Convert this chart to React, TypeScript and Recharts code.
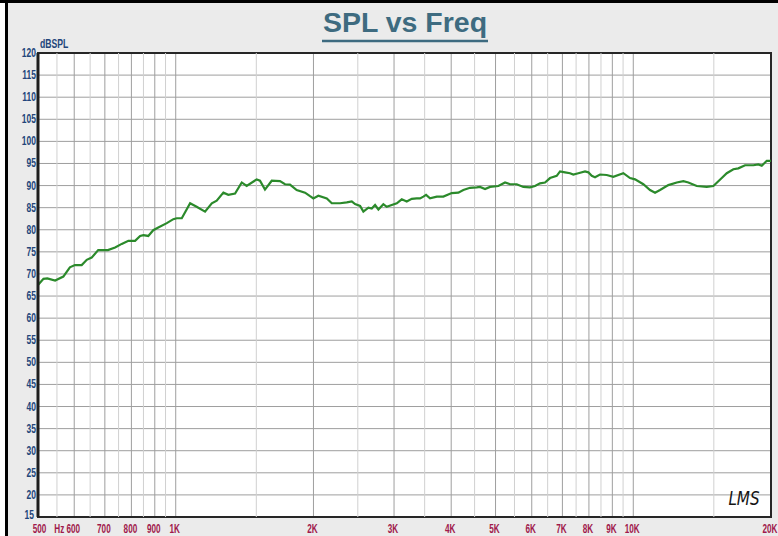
import React from 'react';
import { LineChart, Line, XAxis, YAxis, CartesianGrid, ReferenceLine, ReferenceArea } from 'recharts';

const FREQS = [
  500, 514, 524, 545, 568, 587, 602, 623, 639, 655, 677, 694, 711, 737, 762, 788, 815, 836, 850, 871,
  893, 916, 956, 988, 1005, 1031, 1075, 1111, 1159, 1199, 1229, 1271, 1303, 1348, 1394, 1429, 1503, 1528,
  1567, 1621, 1690, 1733, 1777, 1838, 1917, 1966, 1999, 2050, 2139, 2193, 2287, 2365, 2425, 2466, 2529,
  2571, 2637, 2682, 2727, 2773, 2843, 2892, 2966, 3042, 3119, 3198, 3280, 3363, 3420, 3477, 3525, 3596,
  3720, 3845, 4011, 4147, 4252, 4398, 4549, 4625, 4743, 4864, 5071, 5245, 5379, 5563, 5751, 5948, 6100,
  6255, 6414, 6578, 6803, 6918, 7093, 7274, 7395, 7584, 7844, 7976, 8113, 8249, 8459, 8750, 9045, 9512,
  9839, 10089, 10520, 10881, 11158, 11442, 11931, 12447, 12867, 13195, 13764, 14475, 14964, 15611, 16008,
  16549, 16970, 17553, 18302, 18768, 19091, 19577, 20000,
];

const SPL = [
  67.5, 68.9, 69.0, 68.5, 69.4, 71.5, 72.0, 72.0, 73.2, 73.7, 75.4, 75.4, 75.4, 76.0, 76.8, 77.5, 77.5, 78.6, 78.8, 78.6,
  79.9, 80.5, 81.5, 82.4, 82.6, 82.6, 86.0, 85.2, 84.1, 86.0, 86.6, 88.4, 87.9, 88.2, 90.7, 89.9, 91.4, 91.1,
  89.1, 91.1, 91.0, 90.3, 90.2, 89.0, 88.4, 87.6, 87.1, 87.7, 87.1, 86.0, 86.0, 86.2, 86.4, 85.8, 85.4,
  84.1, 85.0, 84.8, 85.6, 84.6, 85.8, 85.2, 85.6, 86.0, 86.9, 86.4, 87.0, 87.1, 87.1, 87.5, 87.9, 87.1,
  87.5, 87.5, 88.3, 88.4, 89.0, 89.5, 89.6, 89.7, 89.2, 89.7, 89.9, 90.7, 90.3, 90.3, 89.7, 89.6, 89.9,
  90.5, 90.7, 91.7, 92.2, 93.2, 93.0, 92.8, 92.5, 92.8, 93.2, 93.0, 92.2, 91.9, 92.5, 92.4, 92.0, 92.8,
  91.7, 91.4, 90.3, 89.0, 88.4, 89.0, 90.1, 90.7, 91.0, 90.7, 89.9, 89.7, 89.9, 91.7, 92.8,
  93.7, 93.9, 94.6, 94.6, 94.8, 94.5, 95.6, 95.6,
];

const X_TICKS = [500, 600, 700, 800, 900, 1000, 2000, 3000, 4000, 5000, 6000, 7000, 8000, 9000, 10000, 20000];
const MINOR_GRID = [550, 650, 750, 850, 950, 1500, 2500, 3500, 4500, 5500, 6500, 7500, 8500, 9500, 15000];
const Y_TICKS = [15, 20, 25, 30, 35, 40, 45, 50, 55, 60, 65, 70, 75, 80, 85, 90, 95, 100, 105, 110, 115, 120];

const TITLE = 'SPL vs Freq';
const Y_UNIT = 'dBSPL';
const X_UNIT = 'Hz';

const data = FREQS.map((f, i) => ({ freq: f, spl: SPL[i] }));

const FONT = "'Liberation Sans', Arial, sans-serif";
const Y_COLOR = '#22457a';
const X_COLOR = '#a01a4c';

function fmtFreq(v: number) {
  return v >= 1000 ? `${v / 1000}K` : `${v}`;
}

function XTick(props: any) {
  const { x, y, payload } = props;
  const v = payload.value;
  const nudge = v === X_TICKS[0] ? 1.5 : -1;
  return (
    <g transform={`translate(${x},${y})`}>
      <text transform={`translate(${nudge},15.5) scale(0.68,1)`} textAnchor="middle" fontFamily={FONT} fontSize={12} fontWeight="bold" fill={X_COLOR}>
        {fmtFreq(v)}
      </text>
      {v === 600 && (
        <text transform="translate(-10,15.5) scale(0.68,1)" textAnchor="end" fontFamily={FONT} fontSize={12} fontWeight="bold" fill={X_COLOR}>
          {X_UNIT}
        </text>
      )}
    </g>
  );
}

function YTick(props: any) {
  const { x, y, payload } = props;
  const isLowest = payload.value === Y_TICKS[0];
  const dx = isLowest ? -4 : -2;
  const dy = isLowest ? 2 : 4;
  return (
    <text transform={`translate(${x + dx},${y + dy}) scale(0.68,1)`} textAnchor="end" fontFamily={FONT} fontSize={12.5} fontWeight="bold" fill={Y_COLOR}>
      {payload.value}
    </text>
  );
}

export default function App() {
  return (
    <div style={{ position: 'fixed', left: 0, top: 0, width: 778, height: 536, background: '#fff', overflow: 'hidden' }}>
      <div style={{ position: 'absolute', left: 8, top: 3, right: 0, bottom: 0, background: '#ebebeb' }} />
      <div style={{ position: 'absolute', left: 0, top: 0, width: 778, height: 3, background: '#000' }} />
      <div style={{ position: 'absolute', left: 5, top: 0, width: 3, height: 536, background: '#000' }} />
      <div style={{ position: 'absolute', left: 0, top: 0 }}>
        <LineChart width={778} height={536} data={data} margin={{ top: 53, right: 7, bottom: 0, left: 8 }}>
          <CartesianGrid fill="#ffffff" stroke="#9e9e9e" strokeWidth={1} />
          <XAxis
            dataKey="freq"
            type="number"
            scale="log"
            domain={[500, 20000]}
            ticks={X_TICKS}
            interval={0}
            allowDataOverflow
            tick={<XTick />}
            tickLine={false}
            tickSize={0}
            tickMargin={0}
            axisLine={false}
            height={19}
          />
          <YAxis
            type="number"
            domain={[15, 120]}
            ticks={Y_TICKS}
            interval={0}
            allowDataOverflow
            tick={<YTick />}
            tickLine={false}
            tickSize={0}
            tickMargin={0}
            axisLine={{ stroke: '#1e1e1e', strokeWidth: 3 }}
            width={30}
          />
          {MINOR_GRID.map((f) => (
            <ReferenceLine key={f} x={f} stroke="#d0d0d0" strokeWidth={1} />
          ))}
          <ReferenceArea x1={500} x2={20000} y1={15} y2={120} fill="none" fillOpacity={0} stroke="#262626" strokeWidth={2} />
          <Line type="linear" dataKey="spl" stroke="#2b8a2b" strokeWidth={2.2} dot={false} isAnimationActive={false} />
        </LineChart>
      </div>
      <svg width={778} height={536} style={{ position: 'absolute', left: 0, top: 0, pointerEvents: 'none' }}>
        <text x={405} y={32} textAnchor="middle" fontFamily={FONT} fontSize={28.5} fontWeight="bold" fill="#3e6b80">
          {TITLE}
        </text>
        <line x1={322} x2={488} y1={41} y2={41} stroke="#3e6b80" strokeWidth={2.5} />
        <text transform="translate(40,48) scale(0.72,1)" fontFamily={FONT} fontSize={12} fontWeight="bold" fill={Y_COLOR}>
          {Y_UNIT}
        </text>
        <text transform="translate(744,505) scale(0.8,1)" textAnchor="middle" fontFamily="'DejaVu Sans', sans-serif" fontStyle="italic" fontSize={19} fill="#151515">
          LMS
        </text>
      </svg>
    </div>
  );
}
